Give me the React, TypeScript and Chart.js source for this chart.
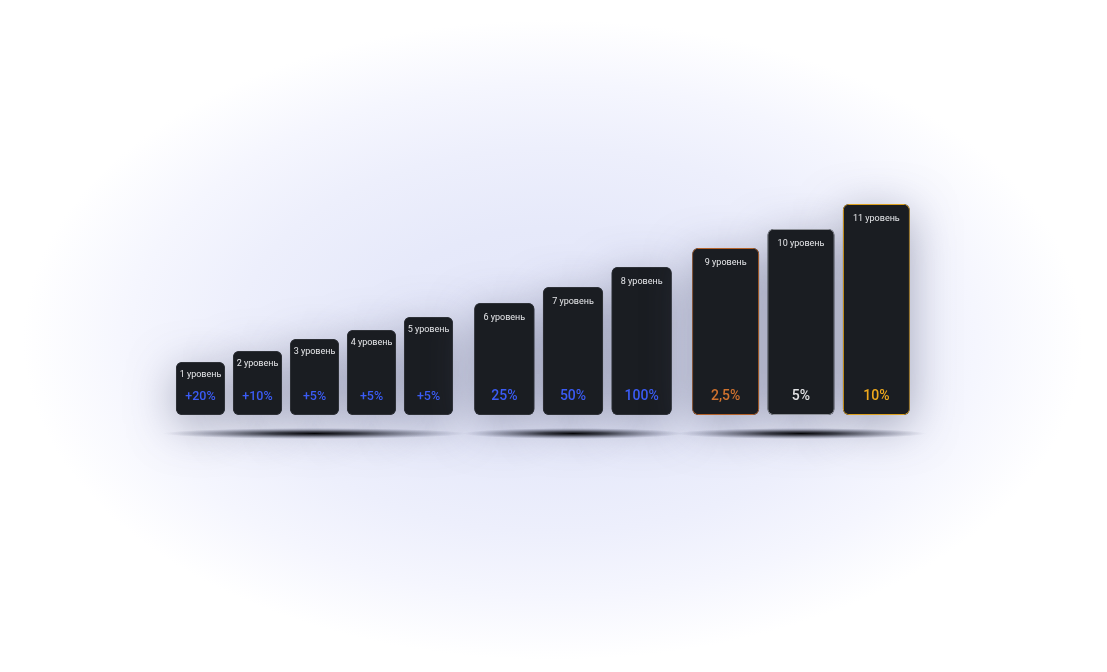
import React, { useEffect, useRef } from "react";
import { Chart, registerables } from "chart.js";

Chart.register(...registerables);

// ---- data ----
const LEVEL_LABELS = [
  "1 уровень", "2 уровень", "3 уровень", "4 уровень", "5 уровень",
  "6 уровень", "7 уровень", "8 уровень",
  "9 уровень", "10 уровень", "11 уровень",
];
const LEVEL_HEIGHTS = [53, 64, 76, 85, 98, 112, 128, 148, 167, 186, 211];
const BONUS_LABELS = ["+20%", "+10%", "+5%", "+5%", "+5%", "25%", "50%", "100%", "2,5%", "5%", "10%"];
const BONUS_COLORS = [
  "#3b5cf6", "#3b5cf6", "#3b5cf6", "#3b5cf6", "#3b5cf6",
  "#3b5cf6", "#3b5cf6", "#3b5cf6",
  "#d0722e", "#e2e2e4", "#eea81c",
];
const BORDER_COLORS = [
  "#2e3137", "#2e3137", "#2e3137", "#2e3137", "#2e3137",
  "#2e3137", "#2e3137", "#2e3137",
  "#b4622a", "#8e9199", "#dca01e",
];
const GROUP_OF_LEVEL = [0, 0, 0, 0, 0, 1, 1, 1, 2, 2, 2];

// ---- layout / style ----
const W = 1107;
const H = 672;
const Y_MAX = 260;
const BASELINE = 415;
const BAR_FILL = "#1a1d22";

const GROUPS = [
  { left: 172, right: 457, barPct: 0.86, valueSize: 12.5, labelOffset: 13, shadowExtra: 18 },
  { left: 470, right: 676, barPct: 0.875, valueSize: 14, labelOffset: 15, shadowExtra: 14 },
  { left: 688, right: 914, barPct: 0.887, valueSize: 14, labelOffset: 15, shadowExtra: 24 },
];

function makePlugin(groupIdx: number, indices: number[]) {
  const g = GROUPS[groupIdx];
  return {
    id: "cardDecor" + groupIdx,
    beforeDatasetsDraw(chart: any) {
      const ctx = chart.ctx as CanvasRenderingContext2D;
      const area = chart.chartArea;
      // bar glow shadows
      const meta = chart.getDatasetMeta(0);
      meta.data.forEach((el: any) => {
        const p = el.getProps(["x", "y", "base", "width"], true);
        ctx.save();
        ctx.shadowColor = "rgba(85,90,120,0.5)";
        ctx.shadowBlur = 45;
        ctx.shadowOffsetY = 10;
        ctx.fillStyle = BAR_FILL;
        ctx.beginPath();
        (ctx as any).roundRect(p.x - p.width / 2, p.y, p.width, p.base - p.y, 6);
        ctx.fill();
        ctx.restore();
      });
      // ground shadow
      const cx = (area.left + area.right) / 2;
      const cy = area.bottom + 18.5;
      const rx = (area.right - area.left) / 2 + g.shadowExtra / 2;
      const ry = 5.5;
      ctx.save();
      ctx.translate(cx, cy);
      ctx.scale(rx, ry);
      const grad = ctx.createRadialGradient(0, 0, 0, 0, 0, 1);
      grad.addColorStop(0, "rgba(5,5,8,1)");
      grad.addColorStop(0.3, "rgba(20,22,30,0.8)");
      grad.addColorStop(0.65, "rgba(50,54,72,0.4)");
      grad.addColorStop(1, "rgba(90,96,130,0)");
      ctx.fillStyle = grad;
      ctx.beginPath();
      ctx.arc(0, 0, 1, 0, Math.PI * 2);
      ctx.fill();
      ctx.restore();
    },
    afterDatasetsDraw(chart: any) {
      const ctx = chart.ctx as CanvasRenderingContext2D;
      const meta = chart.getDatasetMeta(0);
      meta.data.forEach((el: any, i: number) => {
        const idx = indices[i];
        const p = el.getProps(["x", "y", "base"], true);
        ctx.save();
        ctx.textAlign = "center";
        ctx.textBaseline = "middle";
        ctx.font = "400 9px Roboto";
        ctx.fillStyle = "#e6e7ea";
        ctx.fillText(LEVEL_LABELS[idx], p.x, p.y + g.labelOffset);
        ctx.font = `500 ${g.valueSize}px Roboto`;
        ctx.fillStyle = BONUS_COLORS[idx];
        ctx.fillText(BONUS_LABELS[idx], p.x, p.base - 18.5);
        ctx.restore();
      });
    },
  };
}

function GroupChart({ groupIdx }: { groupIdx: number }) {
  const ref = useRef<HTMLCanvasElement | null>(null);
  useEffect(() => {
    if (!ref.current) return;
    const g = GROUPS[groupIdx];
    const indices = GROUP_OF_LEVEL.map((gi, i) => (gi === groupIdx ? i : -1)).filter((i) => i >= 0);
    const chart = new Chart(ref.current, {
      type: "bar",
      data: {
        labels: indices.map((i) => LEVEL_LABELS[i]),
        datasets: [
          {
            data: indices.map((i) => LEVEL_HEIGHTS[i]),
            backgroundColor: BAR_FILL,
            borderColor: indices.map((i) => BORDER_COLORS[i]),
            borderWidth: 1,
            borderRadius: 6,
            borderSkipped: false,
            barPercentage: g.barPct,
            categoryPercentage: 1,
          },
        ],
      },
      options: {
        responsive: false,
        animation: false,
        events: [],
        layout: {
          padding: {
            left: g.left,
            right: W - g.right,
            top: BASELINE - Y_MAX,
            bottom: H - BASELINE,
          },
        },
        scales: {
          x: { type: "category", display: false, offset: true },
          y: { type: "linear", display: false, min: 0, max: Y_MAX },
        },
        plugins: {
          legend: { display: false },
          tooltip: { enabled: false },
          title: { display: false },
        },
      },
      plugins: [makePlugin(groupIdx, indices)],
    });
    return () => chart.destroy();
  }, [groupIdx]);
  return (
    <canvas
      ref={ref}
      width={W}
      height={H}
      style={{ position: "absolute", left: 0, top: 0, width: W, height: H }}
    />
  );
}

export default function App() {
  useEffect(() => {
    document.body.style.margin = "0";
  }, []);
  return (
    <div
      style={{
        position: "fixed",
        left: 0,
        top: 0,
        width: W,
        height: H,
        overflow: "hidden",
        background:
          "radial-gradient(ellipse 530px 320px at 553px 340px, #e2e5f9 0%, #e6e9fa 35%, #edeffc 60%, #f5f6fe 80%, #ffffff 100%)",
      }}
    >
      <GroupChart groupIdx={0} />
      <GroupChart groupIdx={1} />
      <GroupChart groupIdx={2} />
    </div>
  );
}
